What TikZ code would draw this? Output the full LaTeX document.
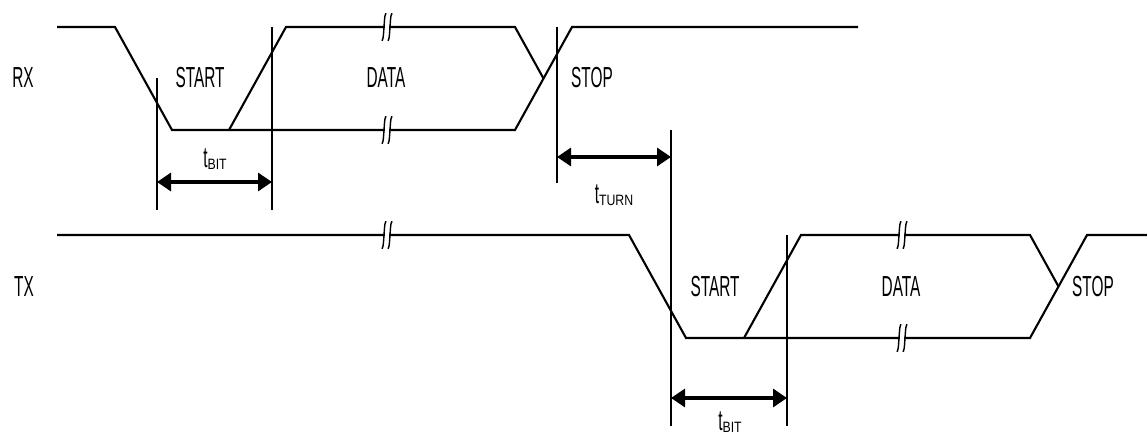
\documentclass[tikz,border=0pt]{standalone}
\usepackage{fontspec}
\setmainfont{Liberation Sans}
\newfontfamily\labfont[FakeStretch=0.53]{Liberation Sans}
\newfontfamily\subfont[FakeStretch=0.82]{Liberation Sans}
\usetikzlibrary{arrows.meta}
\newcommand{\tsub}[1]{t\raisebox{-2pt}{\subfont\fontsize{15}{15}\selectfont #1}}
\tikzset{
  sig/.style={line width=2.1pt, line join=miter},
  vline/.style={line width=1.5pt},
  dimarrow/.style={line width=3.2pt, {Triangle[length=14pt,width=18pt]}-{Triangle[length=14pt,width=18pt]}},
  lbl/.style={inner sep=0pt, font=\labfont\fontsize{29}{29}\selectfont},
  brk/.pic={
    \fill[white] (1.8,-3) rectangle (6.2,3);
    \draw[line width=1.4pt] (3.5,-13) .. controls (2,-15) and (1.6,-9) .. (1,0) .. controls (0.4,9) and (0,15) .. (-1.5,13);
    \draw[line width=1.4pt] (9.5,-13) .. controls (8,-15) and (7.6,-9) .. (7,0) .. controls (6.4,9) and (6,15) .. (4.5,13);
  }
}
\begin{document}
\begin{tikzpicture}[x=1pt,y=-1pt]
\useasboundingbox (0,0) rectangle (1147,436);
% ---------------- RX waveform
\draw[sig] (57,27) -- (115,27) -- (172,130) -- (515,130) -- (572,27) -- (858,27);
\draw[sig] (229,130) -- (286,27) -- (515,27) -- (543.5,78.5);
\pic at (383,27) {brk};
\pic at (383,130) {brk};
% ---------------- TX waveform
\draw[sig] (57,235) -- (629,235) -- (686,338) -- (1030,338) -- (1087,235) -- (1147,235);
\draw[sig] (744,338) -- (801,235) -- (1030,235) -- (1058.5,286.5);
\pic at (383,235) {brk};
\pic at (898,235) {brk};
\pic at (898,338) {brk};
% ---------------- vertical reference lines
\coordinate (v1t) at (157,78);  \coordinate (v1b) at (157,210);
\coordinate (v2t) at (272,27);  \coordinate (v2b) at (272,210);
\coordinate (v3t) at (557,27);  \coordinate (v3b) at (557,183);
\coordinate (v4t) at (671,130); \coordinate (v4b) at (671,426);
\coordinate (v5t) at (787,235); \coordinate (v5b) at (787,426);
\draw[vline] (v1t) -- (v1b);
\draw[vline] (v2t) -- (v2b);
\draw[vline] (v3t) -- (v3b);
\draw[vline] (v4t) -- (v4b);
\draw[vline] (v5t) -- (v5b);
% ---------------- dimension arrows
\coordinate (a1l) at (157,182); \coordinate (a1r) at (272,182);
\coordinate (a2l) at (557,157); \coordinate (a2r) at (671,157);
\coordinate (a3l) at (671,398); \coordinate (a3r) at (787,398);
\draw[dimarrow] (a1l) -- (a1r);
\draw[dimarrow] (a2l) -- (a2r);
\draw[dimarrow] (a3l) -- (a3r);
% ---------------- labels
\node[lbl] (rx) at (23,78) {RX};
\node[lbl] (rxstart) at (200,78) {START};
\node[lbl] (rxdata) at (386,78) {DATA};
\node[lbl] (rxstop) at (592,78) {STOP};
\node[lbl] (tx) at (24,287) {TX};
\node[lbl] (txstart) at (715,287) {START};
\node[lbl] (txdata) at (901,287) {DATA};
\node[lbl] (txstop) at (1093,287) {STOP};
\node[lbl, anchor=base] (tbit1) at (215,167) {\tsub{BIT}};
\node[lbl, anchor=base] (tturn) at (614,203) {\tsub{TURN}};
\node[lbl, anchor=base] (tbit2) at (730,430) {\tsub{BIT}};
\end{tikzpicture}
\end{document}
